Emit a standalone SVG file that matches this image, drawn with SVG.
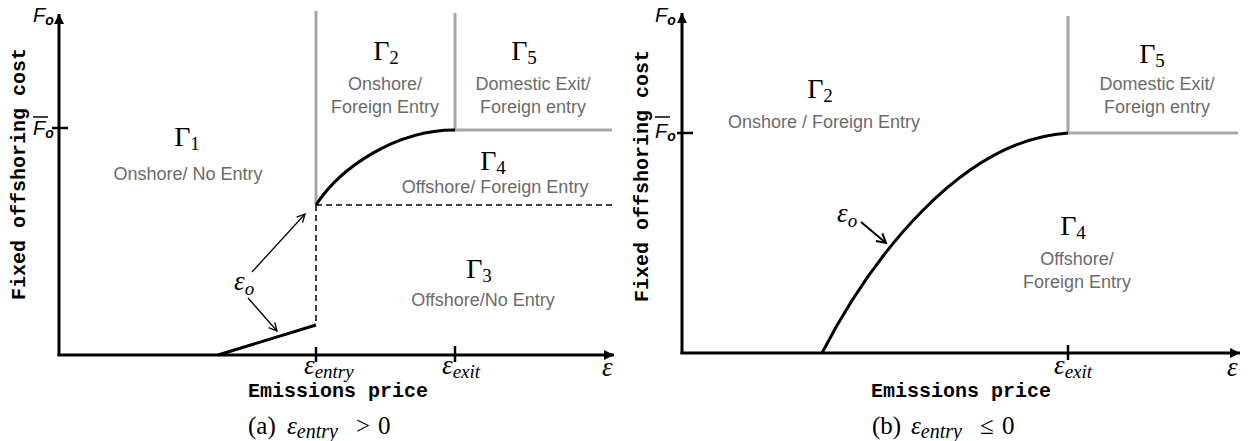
<svg xmlns="http://www.w3.org/2000/svg" width="1258" height="441" viewBox="0 0 1258 441">
<style>
.ax{stroke:#000;stroke-width:3;fill:none}
.gr{stroke:#a6a6a6;stroke-width:3;fill:none}
.cv{stroke:#000;stroke-width:3;fill:none}
.ds{stroke:#000;stroke-width:1.5;stroke-dasharray:6 4;fill:none}
.ar{stroke:#000;stroke-width:1.3;fill:none}
.tk{stroke:#000;stroke-width:2.5}
.rg{font-family:"Liberation Sans",Arial,sans-serif;font-size:18px;fill:#6b6b6b;text-anchor:middle}
.gm{font-family:"Liberation Serif","DejaVu Serif",serif;font-size:28px;fill:#000;text-anchor:middle}
.gs{font-size:19px}
.ep{font-family:"Liberation Serif","DejaVu Serif",serif;font-style:italic;font-size:27px;fill:#000}
.es{font-size:19px}
.mono{font-family:"Liberation Mono","Courier New",monospace;font-weight:bold;font-size:20px;fill:#000}
.fo{font-family:"Liberation Sans",Arial,sans-serif;font-style:italic;font-size:20px;fill:#000}
.fos{font-size:14px;font-weight:bold}
.cap{font-family:"Liberation Serif","DejaVu Serif",serif;font-size:25px;fill:#000}
</style>
<defs>
<marker id="tri" markerUnits="userSpaceOnUse" markerWidth="12" markerHeight="12" refX="10" refY="5" orient="auto">
<path d="M0,0 L10,5 L0,10 Z" fill="#000"/>
</marker>
<marker id="open" markerUnits="userSpaceOnUse" markerWidth="12" markerHeight="12" refX="9" refY="5" orient="auto">
<path d="M1,1 L9,5 L1,9" fill="none" stroke="#000" stroke-width="1.3"/>
</marker>
<marker id="open2" markerUnits="userSpaceOnUse" markerWidth="14" markerHeight="14" refX="10" refY="6" orient="auto">
<path d="M1,1 L10,6 L1,11" fill="none" stroke="#000" stroke-width="2"/>
</marker>
</defs>

<g id="connectors">
<path class="ax" d="M59,356 L59,14" marker-end="url(#tri)"/>
<path class="ax" d="M57.5,355 L614,355" marker-end="url(#tri)"/>
<line class="tk" x1="52" y1="128" x2="68" y2="128"/>
<line class="tk" x1="316" y1="347" x2="316" y2="362"/>
<line class="tk" x1="455" y1="346" x2="455" y2="362"/>
<path class="gr" d="M316,11 L316,205"/>
<path class="gr" d="M455,13 L455,130 L612,130"/>
<path class="cv" d="M316,205 C340,168 395,130 455,130"/>
<path class="ds" d="M316,205 L612,205"/>
<path class="ds" d="M316,205 L316,325"/>
<path class="cv" d="M218,355 L316,325"/>
<path class="ar" d="M252,272 L305,214" marker-end="url(#open)"/>
<path class="ar" d="M248,298 L277,331" marker-end="url(#open)"/>
<path class="ax" d="M682,354 L682,13" marker-end="url(#tri)"/>
<path class="ax" d="M680.5,353 L1240,353" marker-end="url(#tri)"/>
<line class="tk" x1="677" y1="133" x2="693" y2="133"/>
<line class="tk" x1="1068" y1="345" x2="1068" y2="360"/>
<path class="gr" d="M1068,16 L1068,133 L1238,133"/>
<path class="cv" d="M822,353 C870,260 960,140 1068,133"/>
<path class="ar" style="stroke-width:2" d="M861,222 L886,243" marker-end="url(#open2)"/>
</g>

<g id="axis-labels-a">
<text class="mono" transform="translate(25,174) rotate(-90)" text-anchor="middle">Fixed offshoring cost</text>
<text class="mono" x="338" y="397" text-anchor="middle">Emissions price</text>
<text class="fo" x="33" y="22">F<tspan class="fos" dy="3">o</tspan></text>
<text class="fo" x="33" y="135">F<tspan class="fos" dy="3">o</tspan></text>
<line x1="33" y1="117" x2="48" y2="117" stroke="#000" stroke-width="1.5"/>
<text class="ep" x="304" y="374">ε<tspan class="es" dy="4">entry</tspan></text>
<text class="ep" x="442" y="374">ε<tspan class="es" dy="4">exit</tspan></text>
<text class="ep" x="602" y="376">ε</text>
</g>

<g id="axis-labels-b">
<text class="mono" transform="translate(648,176) rotate(-90)" text-anchor="middle">Fixed offshoring cost</text>
<text class="mono" x="961" y="397" text-anchor="middle">Emissions price</text>
<text class="fo" x="655" y="22">F<tspan class="fos" dy="3">o</tspan></text>
<text class="fo" x="655" y="138">F<tspan class="fos" dy="3">o</tspan></text>
<line x1="655" y1="117" x2="670" y2="117" stroke="#000" stroke-width="1.5"/>
<text class="ep" x="1054" y="374">ε<tspan class="es" dy="4">exit</tspan></text>
<text class="ep" x="1227" y="376">ε</text>
</g>

<g id="region-G1">
<text class="gm" x="187" y="146">Γ<tspan class="gs" dy="4">1</tspan></text>
<text class="rg" x="188" y="180">Onshore/ No Entry</text>
</g>
<g id="region-G2a">
<text class="gm" x="386" y="60">Γ<tspan class="gs" dy="4">2</tspan></text>
<text class="rg" x="385" y="90">Onshore/</text>
<text class="rg" x="385" y="113">Foreign Entry</text>
</g>
<g id="region-G5a">
<text class="gm" x="524" y="60">Γ<tspan class="gs" dy="4">5</tspan></text>
<text class="rg" x="533" y="90">Domestic Exit/</text>
<text class="rg" x="533" y="113">Foreign entry</text>
</g>
<g id="region-G4a">
<text class="gm" x="493" y="170">Γ<tspan class="gs" dy="4">4</tspan></text>
<text class="rg" x="495" y="193">Offshore/ Foreign Entry</text>
</g>
<g id="region-G3a">
<text class="gm" x="479" y="278">Γ<tspan class="gs" dy="4">3</tspan></text>
<text class="rg" x="483" y="306">Offshore/No Entry</text>
</g>
<g id="eps-o-a">
<text class="ep" x="234" y="290">ε<tspan class="es" dy="5">o</tspan></text>
</g>

<g id="region-G2b">
<text class="gm" x="820" y="98">Γ<tspan class="gs" dy="4">2</tspan></text>
<text class="rg" x="824" y="128">Onshore / Foreign Entry</text>
</g>
<g id="region-G5b">
<text class="gm" x="1152" y="63">Γ<tspan class="gs" dy="4">5</tspan></text>
<text class="rg" x="1157" y="90">Domestic Exit/</text>
<text class="rg" x="1157" y="113">Foreign entry</text>
</g>
<g id="region-G4b">
<text class="gm" x="1073" y="235">Γ<tspan class="gs" dy="4">4</tspan></text>
<text class="rg" x="1077" y="265">Offshore/</text>
<text class="rg" x="1077" y="288">Foreign Entry</text>
</g>
<g id="eps-o-b">
<text class="ep" x="837" y="222">ε<tspan class="es" dy="5">o</tspan></text>
</g>

<g id="captions">
<text class="cap" x="248" y="434">(a)</text>
<text class="cap" x="287" y="434" font-style="italic">ε<tspan font-size="20" dy="4">entry</tspan></text>
<text class="cap" x="356" y="434">&gt;</text>
<text class="cap" x="378" y="434">0</text>
<text class="cap" x="872" y="434">(b)</text>
<text class="cap" x="911" y="434" font-style="italic">ε<tspan font-size="20" dy="4">entry</tspan></text>
<text class="cap" x="980" y="434">≤</text>
<text class="cap" x="1002" y="434">0</text>
</g>
</svg>
